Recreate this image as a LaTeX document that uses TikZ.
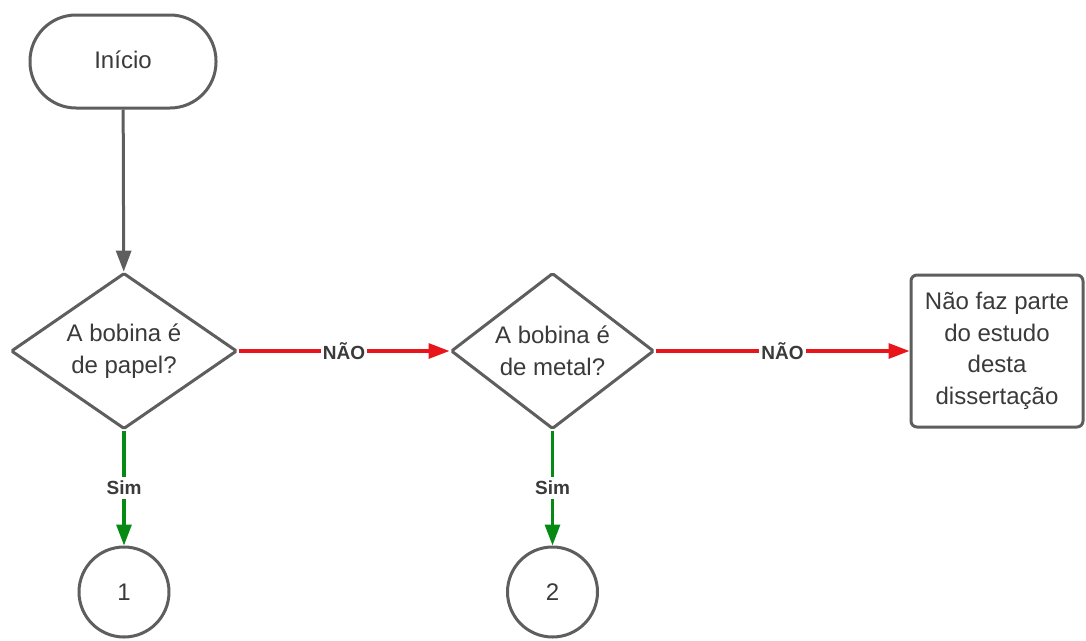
\documentclass[tikz,border=0pt]{standalone}
\usepackage{fontspec}
\setmainfont{Liberation Sans}
\usetikzlibrary{shapes.geometric,arrows.meta}
\definecolor{lineg}{HTML}{5E5E5E}
\definecolor{txt}{HTML}{3A3A3A}
\definecolor{redc}{HTML}{E8161B}
\definecolor{greenc}{HTML}{068A14}
\begin{document}
\begin{tikzpicture}[x=1pt,y=-1pt,
  base/.style={draw=lineg,line width=3pt,text=txt,fill=white,align=center,
    font=\fontsize{24}{31.5}\selectfont},
  startbox/.style={base,rounded corners=46pt,minimum width=186pt,minimum height=93pt},
  dia/.style={base,diamond,aspect=1.45,inner sep=0pt,rounded corners=1.5pt,minimum height=156pt},
  procbox/.style={base,rounded corners=6pt,minimum width=172pt,minimum height=152pt,inner sep=0pt},
  circ/.style={base,circle,minimum size=90pt,inner sep=0pt},
  tip/.style={-{Triangle[length=21pt,width=15pt]}},
  garrow/.style={tip,draw=lineg,line width=3pt},
  rarrow/.style={tip,draw=redc,line width=3.2pt},
  varrow/.style={tip,draw=greenc,line width=3.2pt},
  lbl/.style={fill=white,text=txt,font=\bfseries\fontsize{19}{22}\selectfont,inner xsep=2pt,inner ysep=4pt}
]
\useasboundingbox (0,0) rectangle (1086,640);
\node[startbox] (start) at (123,61.5) {\raisebox{3pt}{Início}};
\node[dia,minimum width=226pt] (d1) at (124,351) {A bobina é\\de papel?};
\node[dia,minimum width=203pt] (d2) at (552.5,351) {A bobina é\\de metal?};
\node[procbox] (r) at (997,351) {Não faz parte\\do estudo\\desta\\dissertação};
\node[circ] (c1) at (124,592) {1};
\node[circ] (c2) at (552.5,592) {2};
\draw[garrow] (start) -- (d1);
\draw[rarrow] (d1) -- node[lbl]{NÃO} (d2);
\draw[rarrow] (d2) -- node[lbl]{NÃO} (r);
\draw[varrow] (d1) -- node[lbl]{Sim} (c1);
\draw[varrow] (d2) -- node[lbl]{Sim} (c2);
\end{tikzpicture}
\end{document}
